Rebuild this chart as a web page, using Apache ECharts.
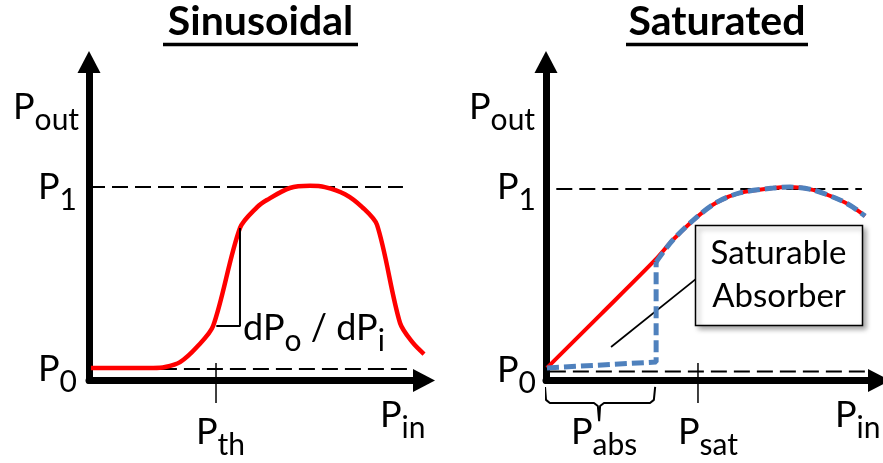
<!DOCTYPE html>
<html>
<head>
<meta charset="utf-8">
<script src="https://cdn.jsdelivr.net/npm/echarts@6/dist/echarts.min.js"></script>
<style>
html,body{margin:0;padding:0;background:#fff;}
#c{width:883px;height:463px;}
</style>
</head>
<body>
<div id="c"></div>
<script>
// ---------- data (axis units: 0..100 = arrow base of each axis) ----------
const sinusoidalIn  = [0.6, 19.8, 23.5, 28.1, 33.3, 38.3, 46.6, 51.9, 54.9, 62.0, 68.2, 72.8, 79.0, 84.3, 88.9, 96.0, 100.0, 103.4];
const sinusoidalOut = [4.1, 4.1, 4.4, 6.0, 10.9, 17.7, 49.6, 56.4, 58.7, 62.6, 63.3, 62.9, 60.6, 56.4, 50.6, 18.7, 12.2, 8.6];
const sinLevels = [3.7, 62.9];        // P0, P1
const sinLevelSpan = [[0.9, 100], [0, 96.9]];
const thresholdIn = [39.2];
const slopeIn  = [39.3, 46.6, 46.6];
const slopeOut = [17.7, 17.7, 49.6];

const saturatedIn  = [0.3, 17.1, 33.9, 39.4, 46.9, 53.1, 60.2, 70.5, 75.8, 82.9, 91.3, 95.3, 99.1];
const saturatedOut = [4.1, 21.6, 39.2, 45.7, 53.2, 58.0, 61.0, 62.6, 62.9, 62.0, 58.7, 56.4, 53.5];
const absorberIn  = [0.3, 34.2, 34.2];
const absorberOut = [4.1, 6.0, 38.5];
const satLevels = [2.9, 62.3];
const satLevelSpan = [[1.2, 99.1], [3.2, 98.1]];
const saturationIn = [47.2];
const braceIn  = [-0.3, 0, 1.2, 14.9, 16.1, 16.5, 16.8, 18.0, 32.3, 33.5, 33.9];
const braceOut = [-2.1, -6.3, -7.3, -7.3, -8.3, -13.2, -8.3, -7.3, -7.3, -6.3, -2.1];
const leaderIn  = [20.2, 46.9];
const leaderOut = [10.9, 33.3];
const tickSpan = [5.7, -7.3];

// ---------- text ----------
const titles = ['Sinusoidal', 'Saturated'];
const axisNames = [['P', 'out'], ['P', 'in']];
const levelLabels = [['P', '0'], ['P', '1']];
const sinTickLabels = [['P', 'th']];
const satTickLabels = [['P', 'abs'], ['P', 'sat']];
const slopeLabel = [['dP', 'o'], [' / dP', 'i']];
const boxLines = ['Saturable', 'Absorber'];

// ---------- build ----------
const FONT = 'Lato';
const zip = (a, b) => a.map((v, i) => [v, b[i]]);
const chart = echarts.init(document.getElementById('c'), null, {renderer: 'canvas'});

function axis(gi, max, offset) {
  return {
    type: 'value', gridIndex: gi, min: 0, max: max,
    axisLine: {show: true, onZero: false, symbol: ['none', 'triangle'], symbolSize: [23, 22], symbolOffset: [0, offset],
      lineStyle: {color: '#000', width: 7}},
    axisTick: {show: false}, axisLabel: {show: false}, splitLine: {show: false}
  };
}
function line(gi, data, style, extra) {
  return Object.assign({
    type: 'line', xAxisIndex: gi, yAxisIndex: gi, data: data, symbol: 'none', showSymbol: false,
    clip: false, silent: true, animation: false, lineStyle: style
  }, extra || {});
}
const dash = {color: '#000', width: 2, type: [16, 7]};
const series = [];
// left panel
sinLevels.forEach((v, i) => series.push(line(0, [[sinLevelSpan[i][0], v], [sinLevelSpan[i][1], v]], dash)));
series.push(line(0, [[thresholdIn[0], tickSpan[0]], [thresholdIn[0], tickSpan[1]]], {color: '#000', width: 1.5}));
series.push(line(0, zip(sinusoidalIn, sinusoidalOut), {color: '#ff0000', width: 4.5}, {smooth: 0.3}));
series.push(line(0, zip(slopeIn, slopeOut), {color: '#000', width: 2}));
// right panel
satLevels.forEach((v, i) => series.push(line(1, [[satLevelSpan[i][0], v], [satLevelSpan[i][1], v]], dash)));
series.push(line(1, [[saturationIn[0], tickSpan[0]], [saturationIn[0], tickSpan[1]]], {color: '#000', width: 1.5}));
series.push(line(1, zip(braceIn, braceOut), {color: '#000', width: 2}));
series.push(line(1, zip(leaderIn, leaderOut), {color: '#000', width: 1.8}));
series.push(line(1, zip(saturatedIn, saturatedOut), {color: '#ff0000', width: 4}, {smooth: 0.3}));
const blue = {color: '#4f81bd', width: 5, type: [12, 5]};
series.push(line(1, zip(absorberIn, absorberOut), blue));
series.push(line(1, [[absorberIn[2], absorberOut[2]]].concat(zip(saturatedIn, saturatedOut).slice(3)), blue, {smooth: 0.3}));

const rich = {
  p: {fontFamily: FONT, fontSize: 36, lineHeight: 36, verticalAlign: 'top', color: '#000'},
  s: {fontFamily: FONT, fontSize: 30, lineHeight: 30, verticalAlign: 'top', padding: [16, 0, 0, 0], color: '#000'}
};
function lab(parts, x, y) {
  const txt = parts.map(pp => '{p|' + pp[0] + '}{s|' + pp[1] + '}').join('');
  return {type: 'text', x: x, y: y, z: 110, silent: true,
    style: {text: txt, rich: rich, align: 'left', verticalAlign: 'top'}};
}
const graphics = [
  // titles
  {type: 'text', x: 260.5, y: 22, z: 110, style: {text: titles[0], font: 'bold 41px ' + FONT, fill: '#000', align: 'center', verticalAlign: 'middle'}},
  {type: 'line', z: 110, shape: {x1: 163, y1: 44.5, x2: 358, y2: 44.5}, style: {stroke: '#000', lineWidth: 3.5}},
  {type: 'text', x: 717, y: 22, z: 110, style: {text: titles[1], font: 'bold 41px ' + FONT, fill: '#000', align: 'center', verticalAlign: 'middle'}},
  {type: 'line', z: 110, shape: {x1: 626, y1: 44.5, x2: 808, y2: 44.5}, style: {stroke: '#000', lineWidth: 3.5}},
  // left labels
  lab([axisNames[0]], 13, 89),
  lab([levelLabels[1]], 38, 169),
  lab([levelLabels[0]], 38, 351),
  lab([sinTickLabels[0]], 196, 414),
  lab([axisNames[1]], 380, 397),
  lab(slopeLabel, 243, 310),
  // right labels
  lab([axisNames[0]], 469, 89),
  lab([levelLabels[1]], 497, 169),
  lab([levelLabels[0]], 497, 352),
  lab([satTickLabels[0]], 571, 414),
  lab([satTickLabels[1]], 678, 414),
  lab([axisNames[1]], 835, 397),
  // callout box
  {type: 'rect', z: 120, shape: {x: 695.5, y: 225.5, width: 167, height: 100},
    style: {fill: '#fff', stroke: '#000', lineWidth: 1.5, shadowBlur: 5, shadowOffsetX: 3, shadowOffsetY: 3, shadowColor: 'rgba(0,0,0,0.35)'}},
  {type: 'text', x: 778.5, y: 253, z: 121, style: {text: boxLines[0], font: '33px ' + FONT, fill: '#000', align: 'center', verticalAlign: 'middle'}},
  {type: 'text', x: 779, y: 296, z: 121, style: {text: boxLines[1], font: '33px ' + FONT, fill: '#000', align: 'center', verticalAlign: 'middle'}}
];

// left x axis runs to 104 so the curve tail stays inside; arrow base stays at 100
const leftXMax = 104;
chart.setOption({
  animation: false,
  backgroundColor: '#fff',
  textStyle: {fontFamily: FONT},
  grid: [
    {left: 89, top: 73, width: 324 * leftXMax / 100, height: 307.5},
    {left: 546, top: 73, width: 322, height: 307.5}
  ],
  xAxis: [axis(0, leftXMax, 11 - 324 * (leftXMax - 100) / 100), axis(1, 100, 11)],
  yAxis: [axis(0, 100, 11), axis(1, 100, 11)],
  series: series,
  graphic: graphics
});
</script>
</body>
</html>
